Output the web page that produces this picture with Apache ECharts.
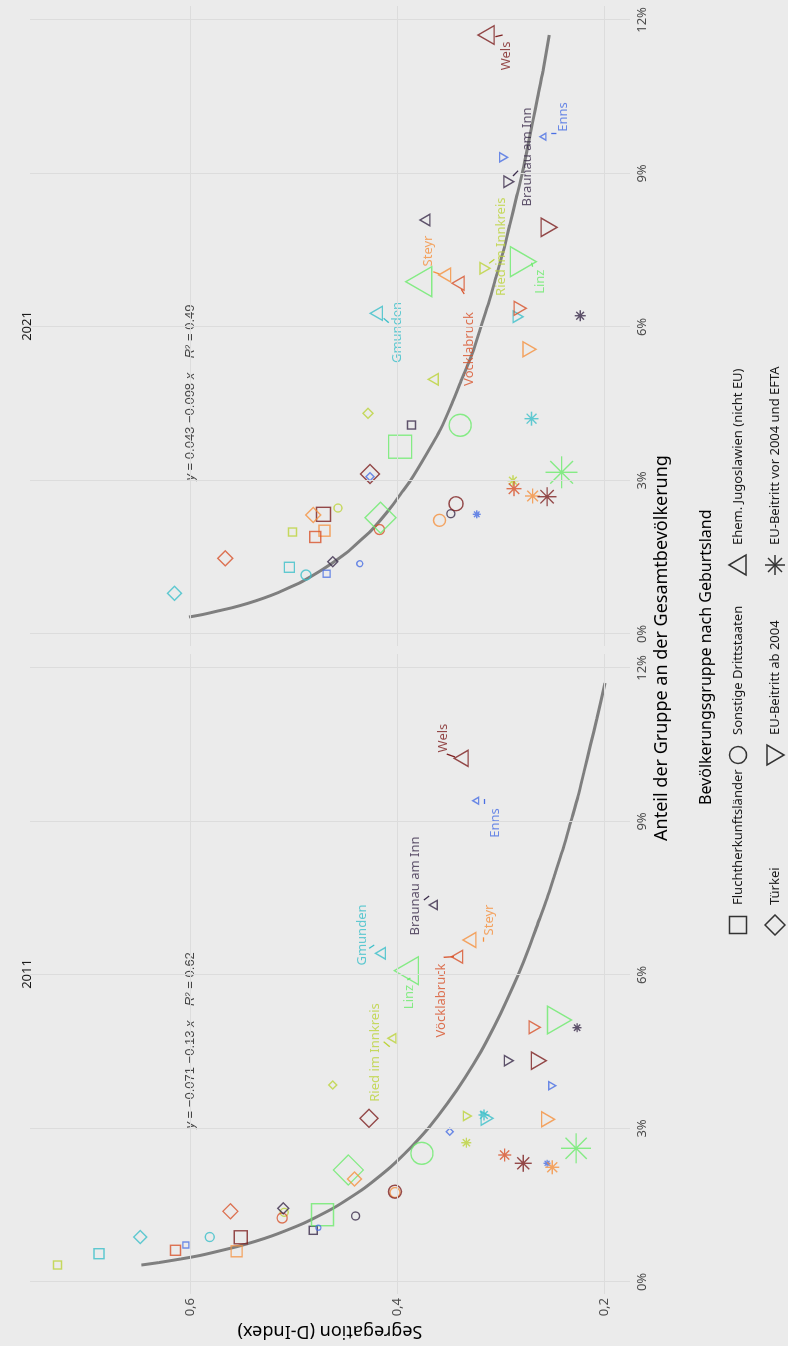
<!DOCTYPE html>
<html>
<head>
<meta charset="utf-8">
<script src="https://cdn.jsdelivr.net/npm/echarts@6/dist/echarts.min.js"></script>
<style>
  html, body { margin: 0; padding: 0; background: #ebebeb; overflow: hidden; width: 788px; height: 1346px; }
  /* chart is drawn landscape, then turned a quarter turn to the left */
  #chart { position: absolute; left: 0; top: 0; width: 1346px; height: 788px;
           transform-origin: 0 0; transform: translate(0, 1346px) rotate(-90deg); }
</style>
</head>
<body>
<div id="chart"></div>
<script>
// cities (alphabetical) and their colours
const cities = ['Braunau am Inn', 'Enns', 'Gmunden', 'Linz', 'Ried im Innkreis', 'Steyr', 'Vöcklabruck', 'Wels']
const cityColors = ['#3a2a4a', '#4a6fe3', '#3bbfc9', '#6beb6b', '#bcd339', '#f5913f', '#d8532b', '#7d1f1f']

const groups = ['Fluchtherkunftsländer', 'Sonstige Drittstaaten', 'Ehem. Jugoslawien (nicht EU)',
  'Türkei', 'EU-Beitritt ab 2004', 'EU-Beitritt vor 2004 und EFTA']

// [Anteil in %, D-Index, Symbolgröße px], in der Reihenfolge von cities
const flucht2011 = [[1.01, 0.481, 8], [0.723, 0.604, 6], [0.553, 0.688, 10], [1.315, 0.472, 22], [0.332, 0.728, 8], [0.600, 0.555, 11], [0.620, 0.614, 10], [0.874, 0.551, 13]]
const sonst2011 = [[1.29, 0.440, 8], [1.061, 0.476, 5], [0.879, 0.581, 9], [2.515, 0.376, 22], [1.362, 0.509, 8], [1.749, 0.402, 10], [1.251, 0.511, 10], [1.765, 0.402, 13]]
const jugo2011 = [[7.368, 0.365, 8], [9.406, 0.324, 6], [6.424, 0.416, 10], [6.084, 0.391, 24], [4.763, 0.405, 8], [6.684, 0.330, 13], [6.357, 0.342, 11], [10.234, 0.338, 14]]
const tuerkei2011 = [[1.44, 0.510, 11], [2.937, 0.349, 7], [0.879, 0.648, 13], [2.189, 0.447, 30], [3.85, 0.462, 8], [2.013, 0.441, 14], [1.382, 0.561, 15], [3.199, 0.427, 18]]
const euAb2011 = [[4.325, 0.292, 9], [3.836, 0.250, 7], [3.199, 0.313, 12], [5.12, 0.243, 24], [3.244, 0.332, 8], [3.18, 0.254, 13], [4.977, 0.267, 11], [4.325, 0.263, 15]]
const euVor2011 = [[4.97, 0.226, 9], [2.32, 0.255, 7], [3.264, 0.316, 11], [2.613, 0.227, 30], [2.722, 0.333, 10], [2.242, 0.250, 14], [2.482, 0.296, 13], [2.32, 0.278, 17]]

const flucht2021 = [[4.084, 0.386, 8], [1.178, 0.468, 7], [1.304, 0.504, 10], [3.66, 0.397, 23], [1.993, 0.501, 8], [2.019, 0.470, 11], [1.896, 0.479, 11], [2.339, 0.471, 14]]
const sonst2021 = [[2.351, 0.348, 8], [1.374, 0.436, 6], [1.153, 0.488, 10], [4.079, 0.339, 22], [2.462, 0.457, 8], [2.222, 0.359, 12], [2.042, 0.417, 10], [2.546, 0.343, 14]]
const jugo2021 = [[8.091, 0.373, 10], [9.719, 0.259, 6], [6.267, 0.420, 12], [6.885, 0.379, 26], [4.977, 0.365, 10], [7.016, 0.354, 12], [6.854, 0.341, 12], [11.706, 0.314, 16]]
const tuerkei2021 = [[1.413, 0.462, 10], [3.074, 0.426, 8], [0.795, 0.615, 14], [2.273, 0.416, 31], [4.313, 0.428, 10], [2.326, 0.481, 15], [1.479, 0.566, 15], [3.127, 0.426, 19]]
const euAb2021 = [[8.839, 0.292, 10], [9.316, 0.297, 8], [6.201, 0.283, 10], [7.276, 0.278, 26], [7.147, 0.315, 10], [5.564, 0.272, 13], [6.365, 0.281, 12], [7.948, 0.253, 16]]
const euVor2021 = [[6.22, 0.223, 11], [2.339, 0.323, 8], [4.208, 0.270, 14], [3.16, 0.241, 32], [2.996, 0.288, 11], [2.697, 0.269, 15], [2.84, 0.287, 15], [2.683, 0.255, 19]]

// Regressionskurven (log-Fit)
const fit2011 = [[0.332, 0.647], [0.38, 0.630], [0.45, 0.609], [0.52, 0.590], [0.6, 0.573], [0.7, 0.553], [0.8, 0.536], [0.9, 0.521], [1.0, 0.508],
  [1.15, 0.490], [1.3, 0.475], [1.45, 0.461], [1.6, 0.449], [1.8, 0.434], [2.0, 0.421], [2.25, 0.406], [2.5, 0.393], [2.75, 0.381],
  [3.0, 0.370], [3.5, 0.351], [4.0, 0.334], [4.5, 0.319], [5.0, 0.306], [5.5, 0.294], [6.0, 0.283], [6.5, 0.273], [7.0, 0.264],
  [7.5, 0.255], [8.0, 0.247], [8.5, 0.239], [9.0, 0.232], [9.5, 0.225], [10.0, 0.219], [10.5, 0.213], [11.0, 0.207], [11.706, 0.199]]
const fit2021 = [[0.332, 0.601], [0.38, 0.588], [0.45, 0.573], [0.52, 0.558], [0.6, 0.544], [0.7, 0.529], [0.8, 0.516], [0.9, 0.505], [1.0, 0.494],
  [1.15, 0.481], [1.3, 0.469], [1.45, 0.458], [1.6, 0.448], [1.8, 0.437], [2.0, 0.426], [2.25, 0.415], [2.5, 0.405], [2.75, 0.396],
  [3.0, 0.387], [3.5, 0.372], [4.0, 0.358], [4.5, 0.347], [5.0, 0.337], [5.5, 0.327], [6.0, 0.319], [6.5, 0.311], [7.0, 0.304],
  [7.5, 0.297], [8.0, 0.291], [8.5, 0.285], [9.0, 0.279], [9.5, 0.274], [10.0, 0.269], [10.5, 0.264], [11.0, 0.259], [11.706, 0.253]]

const equations = ['{i|y} = −0.071 −0.13 {i|x}    {i|R}² = 0.62', '{i|y} = 0.043 −0.098 {i|x}    {i|R}² = 0.49']
const eqPos = [3, 0.6]

// Beschriftungen: Textmitte und Verbindungsstrich [x1, y1, x2, y2]
const labels2011 = [[7.739, 0.382], [8.970, 0.305], [6.781, 0.434], [5.570, 0.388], [4.485, 0.421], [7.075, 0.311], [5.501, 0.357], [10.631, 0.355]]
const segs2011 = [[7.465, 0.374, 7.543, 0.369], [9.439, 0.316, 9.341, 0.316], [6.521, 0.427, 6.586, 0.422], [5.902, 0.390, 5.941, 0.387],
  [4.696, 0.413, 4.598, 0.407], [6.736, 0.317, 6.650, 0.317], [6.346, 0.355, 6.357, 0.345], [10.318, 0.352, 10.260, 0.344]]
const labels2021 = [[9.322, 0.274], [10.104, 0.239], [5.892, 0.400], [6.885, 0.262], [7.569, 0.299], [7.485, 0.370], [5.570, 0.330], [11.296, 0.294]]
const segs2021 = [[8.951, 0.288, 9.054, 0.283], [9.771, 0.251, 9.771, 0.246], [6.170, 0.413, 6.084, 0.408], [7.256, 0.270, 7.178, 0.269],
  [7.244, 0.311, 7.323, 0.306], [7.080, 0.365, 7.035, 0.359], [6.645, 0.335, 6.736, 0.338], [11.673, 0.305, 11.706, 0.298]]

const xTicks = [0, 3, 6, 9, 12]
const yTicks = [0.2, 0.4, 0.6]
const years = ['2011', '2021']

const FONT = 'Noto Sans'
const asterisk = 'path://M10,0L10,20M0,10L20,10M2.93,2.93L17.07,17.07M2.93,17.07L17.07,2.93'
const shapeSymbols = ['rect', 'circle', 'triangle', 'diamond', 'triangle', asterisk]
const shapeRotate = [0, 0, 0, 0, 180, 0]

const byYear = [
  [flucht2011, sonst2011, jugo2011, tuerkei2011, euAb2011, euVor2011],
  [flucht2021, sonst2021, jugo2021, tuerkei2021, euAb2021, euVor2021]
]
const fits = [fit2011, fit2021]
const labelsByYear = [labels2011, labels2021]
const segsByYear = [segs2011, segs2021]

const chart = echarts.init(document.getElementById('chart'))

const series = []
const xAxes = []
const yAxes = []
const grids = [
  { left: 52, top: 30, width: 640, height: 600 },
  { left: 700, top: 30, width: 640, height: 600 }
]

years.forEach((yr, gi) => {
  xAxes.push({
    gridIndex: gi, type: 'value', min: -0.2345, max: 12.273,
    axisLine: { show: false }, axisTick: { show: false }, splitLine: { show: false },
    axisLabel: { customValues: xTicks, formatter: (v) => v + '%', color: '#4d4d4d', fontSize: 13, fontFamily: FONT, margin: 6 }
  })
  yAxes.push({
    gridIndex: gi, type: 'value', min: 0.1749, max: 0.7546,
    axisLine: { show: false }, axisTick: { show: false }, splitLine: { show: false },
    axisLabel: {
      show: gi === 0, customValues: yTicks, color: '#4d4d4d', fontSize: 13, fontFamily: FONT, margin: 4,
      formatter: (v) => v.toFixed(1).replace('.', ',')
    }
  })

  // Gitterlinien
  series.push({
    type: 'line', xAxisIndex: gi, yAxisIndex: gi, data: [], silent: true, z: 0,
    markLine: {
      silent: true, symbol: ['none', 'none'], label: { show: false },
      lineStyle: { color: '#dcdcdc', width: 1, type: 'solid' },
      data: xTicks.map((v) => ({ xAxis: v })).concat(yTicks.map((v) => ({ yAxis: v })))
    }
  })

  // Regressionskurve
  series.push({
    type: 'line', xAxisIndex: gi, yAxisIndex: gi, data: fits[gi], smooth: 0.2,
    showSymbol: false, silent: true, z: 2,
    lineStyle: { color: '#7f7f7f', width: 3 }
  })

  // Punkte je Bevölkerungsgruppe
  byYear[gi].forEach((arr, g) => {
    const tri = g === 2 || g === 4
    series.push({
      type: 'scatter', name: groups[g], xAxisIndex: gi, yAxisIndex: gi,
      symbol: shapeSymbols[g], symbolRotate: shapeRotate[g], silent: true, z: 3,
      itemStyle: { color: 'none', borderWidth: 1.4 },
      data: arr.map((d, i) => ({
        value: [d[0], d[1]],
        symbolSize: tri ? [d[2] * 1.155, d[2]] : d[2],
        itemStyle: { color: 'none', borderColor: cityColors[i], borderWidth: 1.4 }
      }))
    })
  })

  // Städtenamen mit Verbindungsstrichen
  series.push({
    type: 'scatter', xAxisIndex: gi, yAxisIndex: gi, symbolSize: 0, silent: true, z: 4,
    label: { show: true, position: 'inside', fontFamily: FONT, fontSize: 13, formatter: (p) => p.name },
    data: labelsByYear[gi].map((d, i) => ({ name: cities[i], value: d, label: { color: cityColors[i] } })),
    markLine: {
      silent: true, symbol: ['none', 'none'], label: { show: false },
      data: segsByYear[gi].map((s, i) => [
        { coord: [s[0], s[1]], lineStyle: { color: cityColors[i], width: 1.3, type: 'solid' } },
        { coord: [s[2], s[3]] }
      ])
    }
  })

  // Regressionsgleichung
  series.push({
    type: 'scatter', xAxisIndex: gi, yAxisIndex: gi, symbolSize: 0, silent: true, z: 4,
    data: [{ value: eqPos }],
    label: {
      show: true, position: 'right', distance: 0, formatter: equations[gi],
      color: '#1a1a1a', fontSize: 13, fontFamily: 'Liberation Sans',
      rich: { i: { fontStyle: 'italic', fontSize: 13, fontFamily: 'Liberation Sans', color: '#1a1a1a' } }
    }
  })
})

// Legende (Form = Bevölkerungsgruppe)
const legCol = [421, 591, 781]
const legRow = [738, 775]
const legStroke = { fill: 'none', stroke: '#333333', lineWidth: 1.5 }
const legendShapes = [
  { type: 'rect', shape: { x: legCol[0] - 8.5, y: legRow[0] - 8.5, width: 17, height: 17 }, style: legStroke },
  { type: 'circle', shape: { cx: legCol[1], cy: legRow[0], r: 8.5 }, style: legStroke },
  { type: 'polygon', shape: { points: [[legCol[2], legRow[0] - 9], [legCol[2] + 10, legRow[0] + 8], [legCol[2] - 10, legRow[0] + 8]] }, style: legStroke },
  { type: 'polygon', shape: { points: [[legCol[0], legRow[1] - 10], [legCol[0] + 10, legRow[1]], [legCol[0], legRow[1] + 10], [legCol[0] - 10, legRow[1]]] }, style: legStroke },
  { type: 'polygon', shape: { points: [[legCol[1] - 10, legRow[1] - 8], [legCol[1] + 10, legRow[1] - 8], [legCol[1], legRow[1] + 9]] }, style: legStroke },
  { type: 'group', children: [
    { type: 'line', shape: { x1: legCol[2], y1: legRow[1] - 10, x2: legCol[2], y2: legRow[1] + 10 }, style: legStroke },
    { type: 'line', shape: { x1: legCol[2] - 10, y1: legRow[1], x2: legCol[2] + 10, y2: legRow[1] }, style: legStroke },
    { type: 'line', shape: { x1: legCol[2] - 7, y1: legRow[1] - 7, x2: legCol[2] + 7, y2: legRow[1] + 7 }, style: legStroke },
    { type: 'line', shape: { x1: legCol[2] - 7, y1: legRow[1] + 7, x2: legCol[2] + 7, y2: legRow[1] - 7 }, style: legStroke }
  ] }
]
const legendOrder = [[0, 0], [1, 0], [2, 0], [0, 1], [1, 1], [2, 1]] // [col, row] per group
const legendTexts = groups.map((g, k) => ({
  type: 'text', x: legCol[legendOrder[k][0]] + 20, y: legRow[legendOrder[k][1]],
  style: { text: g, fill: '#1a1a1a', font: '13px "Noto Sans"', verticalAlign: 'middle', align: 'left' }
}))

const graphics = [
  { type: 'text', x: 372, y: 27, style: { text: years[0], fill: '#1a1a1a', font: '13px "Noto Sans"', align: 'center', verticalAlign: 'middle' } },
  { type: 'text', x: 1020, y: 27, style: { text: years[1], fill: '#1a1a1a', font: '13px "Noto Sans"', align: 'center', verticalAlign: 'middle' } },
  { type: 'text', x: 698, y: 662, style: { text: 'Anteil der Gruppe an der Gesamtbevölkerung', fill: '#000', font: '18px "Noto Sans"', align: 'center', verticalAlign: 'middle' } },
  { type: 'text', x: 15, y: 330, rotation: Math.PI / 2, style: { text: 'Segregation (D-Index)', fill: '#000', font: '18px "Noto Sans"', align: 'center', verticalAlign: 'middle' } },
  { type: 'text', x: 541, y: 706, style: { text: 'Bevölkerungsgruppe nach Geburtsland', fill: '#000', font: '16px "Noto Sans"', align: 'left', verticalAlign: 'middle' } }
].concat(legendShapes, legendTexts)

chart.setOption({
  animation: false,
  backgroundColor: '#ebebeb',
  grid: grids,
  xAxis: xAxes,
  yAxis: yAxes,
  series: series,
  graphic: graphics
})
</script>
</body>
</html>
